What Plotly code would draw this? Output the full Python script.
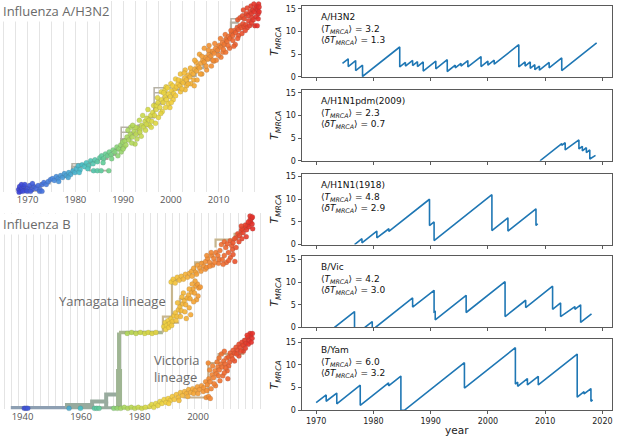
import plotly.graph_objects as go

FIG_W, FIG_H = 617, 439

# ---------------- A/H3N2 tree ----------------
# tips: (sampling year, row in the tree layout, top row = 0)
h3_tips = [
    (1968.1, 191), (1968.3, 188), (1968.5, 193), (1968.8, 190), (1969.2, 188), (1969.6, 192),
    (1970.0, 190), (1970.4, 187), (1970.9, 191), (1971.3, 188), (1971.8, 190), (1972.2, 187),
    (1972.6, 191), (1973.0, 186), (1973.4, 184), (1973.9, 186), (1974.3, 183), (1974.8, 181),
    (1972.5, 193), (1973.0, 193), (1968.2, 194), (1968.7, 186), (1969.0, 193), (1969.4, 186),
    (1969.9, 193), (1970.6, 193), (1971.0, 185),
    (1975.2, 180), (1975.6, 182), (1976.0, 178), (1976.4, 180), (1976.9, 177), (1977.3, 179),
    (1977.7, 175), (1978.1, 177), (1978.6, 174), (1979.0, 176), (1979.5, 172), (1979.9, 174),
    (1976.5, 183), (1978.5, 179),
    (1980.2, 170), (1980.6, 167), (1981.0, 171), (1981.4, 166), (1981.9, 168), (1982.3, 164),
    (1982.8, 167), (1983.2, 162), (1983.7, 165), (1984.1, 161), (1984.6, 163), (1983.8, 172),
    (1984.6, 172), (1985.4, 172), (1987.0, 172), (1980.8, 174), (1982.6, 170),
    (1985.1, 159), (1985.5, 157), (1985.9, 160), (1986.3, 155), (1986.7, 157), (1987.1, 153),
    (1987.5, 156), (1987.9, 151), (1988.3, 153), (1988.7, 148), (1989.1, 150), (1989.5, 146),
    (1989.9, 143), (1990.2, 148), (1985.8, 164), (1987.6, 160), (1988.9, 157), (1989.6, 153),
    (1990.4, 142), (1990.8, 138), (1991.2, 141), (1991.5, 135), (1991.9, 138), (1992.3, 132),
    (1992.7, 135), (1993.1, 129), (1993.5, 131), (1993.9, 126), (1994.3, 128), (1994.7, 131),
    (1994.6, 122), (1995.0, 119), (1995.4, 121), (1995.8, 116), (1996.2, 113), (1996.6, 116),
    (1996.9, 110), (1991.6, 128), (1992.6, 128), (1993.5, 133), (1992.5, 145), (1995.5, 126),
    (1996.0, 122), (1990.0, 150), (1990.6, 146), (1991.0, 131), (1991.8, 144), (1992.0, 126),
    (1992.9, 140), (1993.4, 121), (1993.8, 137), (1994.1, 116), (1994.9, 125), (1995.2, 110),
    (1995.9, 128), (1996.4, 106), (1996.8, 124),
    (1997.0, 106), (1997.3, 103), (1997.7, 108), (1998.0, 100), (1998.4, 103), (1998.8, 97),
    (1999.1, 100), (1999.5, 94), (1999.9, 97), (2000.2, 91), (2000.6, 94), (2000.9, 89),
    (1997.4, 118), (1998.2, 112), (1999.8, 108), (1998.0, 92), (1998.8, 90), (1999.5, 104),
    (2000.5, 100), (1999.0, 87), (2000.0, 84), (1997.2, 98), (1997.9, 114), (1998.5, 93),
    (1998.9, 108), (1999.3, 88), (2000.1, 103), (2000.4, 86),
    (2001.2, 87), (2001.5, 84), (2001.9, 86), (2002.2, 81), (2002.6, 83), (2002.9, 78),
    (2003.3, 80), (2003.6, 75), (2004.0, 77), (2004.3, 72), (2004.7, 74), (2005.0, 69),
    (2005.4, 71), (2005.7, 66), (2006.0, 68), (2003.3, 86), (2004.8, 80), (2002.0, 92),
    (2003.0, 90), (2004.2, 84), (2005.5, 80), (2001.0, 79), (2002.0, 74), (2003.0, 70),
    (2001.0, 96), (2001.6, 80), (2002.3, 89), (2002.8, 73), (2003.6, 84), (2004.1, 68),
    (2004.9, 86), (2005.3, 62),
    (2006.3, 63), (2006.7, 60), (2007.0, 62), (2007.3, 57), (2007.7, 59), (2008.0, 54),
    (2008.4, 56), (2008.7, 51), (2009.1, 53), (2009.4, 48), (2009.8, 50), (2010.1, 45),
    (2010.5, 47), (2010.8, 42), (2011.2, 44), (2011.5, 39), (2009.0, 61), (2010.9, 52),
    (2006.5, 74), (2007.5, 70), (2008.5, 66), (2009.5, 60), (2010.5, 57), (2011.5, 52),
    (2005.0, 60), (2006.0, 54), (2007.0, 48), (2008.0, 45), (2006.2, 74), (2006.5, 56),
    (2007.4, 66), (2007.9, 50), (2008.8, 60), (2009.2, 43), (2010.0, 55), (2010.4, 38),
    (2011.0, 49), (2011.4, 34),
    (2011.8, 41), (2012.1, 36), (2012.4, 38), (2012.7, 33), (2013.0, 35), (2013.3, 30),
    (2013.6, 32), (2013.9, 27), (2014.2, 29), (2014.5, 25), (2014.8, 27), (2015.1, 23),
    (2015.4, 26), (2015.7, 24), (2016.0, 27), (2016.5, 25), (2017.6, 25), (2018.1, 25),
    (2013.0, 40), (2014.2, 35), (2012.3, 48), (2013.5, 44), (2012.0, 45), (2012.6, 30),
    (2013.2, 46), (2014.0, 38), (2014.9, 33), (2015.6, 30),
    (2014.0, 19), (2014.5, 17), (2015.0, 15), (2015.4, 18), (2015.8, 13), (2016.2, 15),
    (2016.6, 11), (2016.9, 13), (2017.2, 9), (2017.5, 11), (2017.8, 7), (2018.0, 5),
    (2018.2, 9), (2018.4, 3), (2018.5, 6), (2017.0, 17), (2018.3, 13), (2016.3, 20),
    (2016.9, 22), (2017.3, 19), (2017.9, 16), (2018.3, 18), (2018.5, 11), (2015.2, 9),
    (2016.0, 7), (2016.8, 5), (2017.4, 3),
]
# backbone nodes, drawn as horizontal-then-vertical steps
h3_trunk = [
    (1967.9, 190), (1969.5, 189), (1971.0, 188), (1972.8, 185), (1974.6, 181), (1976.4, 178),
    (1978.3, 175), (1979.3, 168), (1981.2, 166), (1983.0, 163), (1984.9, 160), (1986.7, 156),
    (1988.3, 151), (1989.6, 140), (1991.5, 135), (1993.2, 126), (1995.0, 118), (1996.5, 104),
    (1998.5, 97), (2000.3, 90), (2002.0, 83), (2003.6, 76), (2005.2, 68), (2006.8, 60),
    (2008.4, 52), (2010.0, 45), (2011.4, 38), (2012.6, 22), (2014.0, 18), (2015.5, 13),
    (2016.8, 8), (2018.3, 4),
]
# side branches (None separates segments)
h3_side = [
    (1968.0, 192.5), (1973.0, 192.5), None,
    (1979.3, 168), (1979.3, 165), (1982.5, 165), None,
    (1983.0, 163), (1983.0, 172), (1987.0, 172), None,
    (1989.6, 140), (1989.6, 128), (1993.5, 128), None,
    (1989.6, 133), (1992.6, 133), None,
    (1996.5, 104), (1996.5, 88), (2000.0, 88), None,
    (1996.5, 93), (1999.8, 93), None,
    (2012.6, 22), (2012.6, 18), (2015.5, 18), None,
    (2013.5, 25), (2018.1, 25),
]

# ---------------- influenza B tree ----------------
b_tips = [
    (1940.6, 413), (1941.2, 413), (1941.8, 413), (1955.9, 413), (1959.8, 413),
    (1964.6, 413), (1965.4, 413), (1966.2, 413),
    # Victoria lineage
    (1971.2, 413), (1972.4, 413), (1973.6, 413), (1974.8, 412), (1976.0, 413), (1977.2, 412),
    (1978.4, 413), (1979.6, 412), (1980.8, 413), (1982.0, 412),
    (1983.5, 411), (1984.2, 409), (1984.9, 412), (1985.6, 408), (1986.3, 410), (1987.0, 406),
    (1987.7, 408), (1988.4, 404), (1989.1, 407), (1989.8, 403), (1990.5, 405), (1991.2, 401),
    (1991.9, 404), (1992.6, 399), (1993.3, 402), (1994.0, 397), (1994.7, 400), (1995.4, 396),
    (1996.1, 398), (1996.8, 394), (1997.5, 397), (1998.2, 393), (1999.0, 395), (1999.8, 391),
    (2000.5, 394), (2001.2, 390), (2002.8, 402), (2003.6, 401), (2004.2, 403),
    (1998.5, 398), (1996.5, 401), (1993.5, 405), (1990.0, 408), (2000.0, 398), (2001.8, 396),
    (2002.0, 392), (2002.6, 386), (2003.2, 389), (2003.7, 383), (2004.2, 386), (2004.8, 379),
    (2005.3, 382), (2005.8, 375), (2006.3, 378), (2006.8, 371), (2007.3, 374), (2007.8, 368),
    (2008.3, 371), (2008.8, 365), (2009.3, 368), (2009.8, 362), (2004.5, 393), (2006.0, 390),
    (2007.5, 385), (2008.5, 380), (2010.0, 375), (2010.5, 370), (2003.5, 367),
    (2004.0, 374), (2005.0, 370), (2006.5, 366), (2007.2, 362), (2003.0, 395), (2005.5, 388),
    (2007.0, 380), (2009.0, 377), (2010.2, 383),
    (2010.5, 361), (2011.0, 357), (2011.5, 360), (2012.0, 354), (2012.5, 357), (2013.0, 351),
    (2013.5, 354), (2014.0, 348), (2014.5, 351), (2015.0, 346), (2015.5, 349), (2016.0, 344),
    (2016.5, 347), (2017.0, 341), (2017.5, 344), (2018.0, 339), (2018.5, 342), (2017.8, 337),
    (2012.5, 365), (2014.0, 360), (2015.5, 355), (2008.0, 358), (2009.0, 355), (2009.5, 372),
    (2010.8, 366), (2011.8, 363), (2013.2, 358), (2014.6, 355), (2016.2, 352), (2017.2, 348),
    (2018.2, 346), (2018.6, 337), (2016.8, 339),
    # Yamagata lineage
    (1975.8, 337), (1977.3, 336), (1978.8, 337), (1980.3, 336), (1981.8, 337), (1983.0, 336),
    (1984.3, 337), (1985.6, 336),
    (1988.3, 330), (1988.8, 326), (1989.3, 329), (1989.8, 324), (1990.3, 327), (1990.8, 322),
    (1991.3, 325), (1991.8, 319), (1992.3, 316), (1992.8, 320), (1993.3, 313), (1993.8, 310),
    (1994.3, 314), (1994.8, 307), (1995.3, 304), (1995.8, 308), (1996.3, 301), (1996.8, 298),
    (1997.3, 302), (1997.8, 295), (1998.3, 292), (1998.8, 296), (1999.3, 289), (1999.8, 287),
    (2000.3, 291), (1996.0, 322), (1997.5, 318), (1999.5, 303), (1995.0, 296),
    (1989.0, 333), (1990.0, 331), (1991.0, 329), (1992.5, 324), (1994.0, 320), (1995.5, 315),
    (1997.0, 311), (1998.5, 305), (2000.0, 299), (2000.8, 290), (1999.0, 284), (1998.0, 287),
    (1997.0, 292), (1993.0, 306), (1994.5, 300),
    (1990.8, 285), (1991.5, 282), (1992.2, 286), (1992.9, 280), (1993.6, 283), (1994.3, 279),
    (1995.0, 282), (1995.7, 277), (1996.4, 280), (1997.1, 276),
    (1997.8, 274), (1998.5, 271), (1999.2, 275), (1999.9, 268), (2000.6, 271), (2001.3, 266),
    (2002.0, 269), (1998.0, 279), (1999.5, 277), (2001.0, 274), (2002.5, 272),
    (2002.6, 264), (2003.3, 261), (2004.0, 265), (2004.7, 258), (2005.4, 261), (2006.1, 255),
    (2006.8, 258), (2007.5, 253), (2003.0, 270), (2005.0, 268), (2007.0, 266), (2004.0, 269),
    (2005.7, 265), (2007.2, 262), (2004.5, 255), (2003.0, 258),
    (2008.3, 262), (2009.0, 258), (2009.7, 265), (2010.4, 255), (2011.1, 260), (2011.8, 252),
    (2012.6, 264), (2008.6, 267), (2010.5, 263), (2012.0, 257), (2011.5, 248), (2009.5, 250),
    (2008.0, 247), (2009.0, 244), (2010.0, 246), (2011.0, 243), (2012.0, 245), (2013.0, 240),
    (2013.6, 236), (2014.2, 238), (2014.8, 233), (2015.4, 235), (2016.0, 230), (2016.6, 232),
    (2017.0, 227), (2017.5, 229), (2018.0, 224), (2018.5, 226), (2018.4, 220), (2017.8, 222),
    (2015.0, 241), (2016.5, 239), (2013.0, 250), (2014.0, 244), (2015.0, 231), (2016.2, 227),
    (2017.2, 224), (2017.8, 218), (2018.6, 219), (2018.7, 231), (2014.8, 228), (2012.5, 241),
]
b_root = [(1936.0, 413), (1955.2, 413)]
b_stem = [
    (1955.2, 413), (1973.0, 413), None,
    (1955.2, 413), (1955.2, 409.5), (1963.8, 409.5), (1963.8, 406), (1968.6, 406),
    (1968.6, 399), (1972.4, 399), None,
    (1968.6, 406), (1968.6, 413),
]
b_trunk = [(1973.0, 413), (1973.0, 336)]
b_trunk_thick = [(1973.0, 413), (1973.0, 373)]
b_yam_stem = [(1973.0, 336), (1988.0, 336)]
b_vic_stem = [(1973.0, 413), (1983.5, 413)]
b_yam_side = [
    (1988.0, 336), (1988.0, 320), (1991.1, 320), None,
    (1988.0, 326), (1993.5, 326), None,
    (1991.1, 327), (1991.1, 283), (1994.0, 283), None,
    (1993.8, 318), (1993.8, 302), (1998.0, 302), None,
    (1999.0, 273), (1999.0, 265), (2002.0, 265), None,
    (2006.0, 250), (2006.0, 242), (2012.5, 242), (2012.5, 236), (2015.5, 236),
]
b_vic_side = [
    (1995.0, 402), (2003.0, 402), None,
    (2003.5, 398), (2003.5, 367), (2007.0, 367), (2007.0, 358), (2015.5, 358),
    (2015.5, 343), (2017.5, 343),
]

# ---------------- T_MRCA over time: (year, T_MRCA) ----------------
tmrca_h3n2 = [
    (1974.6, 3.0), (1975.6, 4.0), (1975.6, 2.3), (1976.9, 3.6), (1976.9, 1.4), (1978.1, 2.6),
    (1978.1, 0.1), (1984.6, 6.6), (1984.6, 2.2), (1985.6, 3.2), (1985.6, 2.4), (1986.85, 3.65),
    (1986.85, 2.5), (1987.7, 3.35), (1987.7, 2.3), (1988.7, 3.3), (1988.7, 1.3), (1990.9, 3.5),
    (1990.9, 1.8), (1992.9, 3.8), (1992.9, 1.2), (1994.3, 2.6), (1994.3, 2.0), (1995.3, 3.0),
    (1995.3, 2.4), (1996.5, 3.6), (1996.5, 2.2), (1998.8, 4.5), (1998.8, 2.3), (2000.0, 3.5),
    (2000.0, 2.6), (2001.1, 3.7), (2001.1, 2.8), (2005.4, 7.1), (2005.4, 2.2), (2006.5, 3.3),
    (2006.5, 2.4), (2007.4, 3.3), (2007.4, 1.9), (2008.2, 2.7), (2008.2, 1.6), (2009.0, 2.4),
    (2009.0, 1.5), (2010.7, 3.2), (2010.7, 2.0), (2012.9, 4.2), (2012.9, 1.4), (2019.0, 7.5),
]
tmrca_h1n1pdm = [
    (2009.1, 0.0), (2012.9, 3.8), (2012.9, 3.4), (2013.5, 4.0), (2013.5, 2.4), (2015.9, 4.6),
    (2015.9, 2.6), (2016.5, 3.2), (2016.5, 2.2), (2017.2, 2.9), (2017.2, 1.8), (2017.8, 2.4),
    (2017.8, 0.4), (2018.8, 1.2),
]
tmrca_h1n1_1918 = [
    (1976.7, 0.0), (1978.0, 1.3), (1978.0, 0.4), (1980.6, 3.0), (1980.6, 1.5), (1982.7, 3.5),
    (1982.7, 2.9), (1989.8, 10.0), (1989.8, 4.2), (1990.6, 5.0), (1990.6, 0.9), (2000.7, 11.0),
    (2000.7, 3.1), (2003.5, 5.9), (2003.5, 3.0), (2008.4, 7.9), (2008.4, 4.2), (2008.7, 4.6),
]
tmrca_bvic = [
    (1973.2, 0.0), (1976.7, 3.5), (1976.7, 0.0), None,
    (1978.5, 0.0), (1979.8, 1.3), (1979.8, 0.0), None,
    (1980.35, 0.0), (1986.85, 6.5), (1986.85, 4.5), (1990.6, 8.2), (1990.6, 3.4), (1990.8, 3.5),
    (1990.8, 1.7), (1996.2, 7.1), (1996.2, 3.3), (2003.0, 10.1), (2003.0, 2.4), (2006.6, 6.0),
    (2006.6, 4.4), (2011.3, 9.1), (2011.3, 4.0), (2012.7, 5.4), (2012.7, 2.4), (2015.2, 4.6),
    (2015.2, 4.0), (2016.2, 5.0), (2016.2, 1.1), (2018.1, 3.0),
]
tmrca_byam = [
    (1970.0, 1.7), (1971.75, 3.4), (1971.75, 2.0), (1973.6, 3.8), (1973.6, 1.45), (1977.7, 5.55),
    (1977.7, 1.1), (1982.65, 6.05), (1982.65, 5.4), (1984.8, 7.55), (1984.8, 0.0), (1985.4, 0.0),
    (1995.9, 10.5), (1995.9, 4.9), (2004.8, 13.8), (2004.8, 5.8), (2005.2, 6.2), (2005.2, 5.3),
    (2006.9, 7.0), (2006.9, 5.6), (2008.8, 7.5), (2008.8, 5.6), (2015.6, 12.4), (2015.6, 2.9),
    (2016.8, 4.1), (2016.8, 3.6), (2018.0, 4.8), (2018.0, 2.0), (2018.3, 2.3),
]
panel_series = [tmrca_h3n2, tmrca_h1n1pdm, tmrca_h1n1_1918, tmrca_bvic, tmrca_byam]
panel_names = ["A/H3N2", "A/H1N1pdm(2009)", "A/H1N1(1918)", "B/Vic", "B/Yam"]
panel_mean = [3.2, 2.3, 4.8, 4.2, 6.0]
panel_sd = [1.3, 0.7, 2.9, 3.0, 3.2]
year_ticks = [1970, 1980, 1990, 2000, 2010, 2020]
tmrca_ticks = [0, 5, 10, 15]

RAINBOW = [
    [0.0, "#3a3fd6"], [0.14, "#4a86e0"], [0.27, "#45bfc6"], [0.37, "#66cf92"],
    [0.45, "#a6d862"], [0.55, "#d6d945"], [0.64, "#f2d03c"], [0.74, "#f4ab36"],
    [0.85, "#f17d31"], [1.0, "#e4302a"],
]
GRID = "#e4e4e4"
LEFT_FONT = "Open Sans"
RIGHT_FONT = "DejaVu Sans"


def split(pairs):
    xs, ys = [], []
    for p in pairs:
        if p is None:
            xs.append(None)
            ys.append(None)
        else:
            xs.append(p[0])
            ys.append(p[1])
    return xs, ys


def ydom(top, bottom):
    return [1 - bottom / FIG_H, 1 - top / FIG_H]


def add_lines(pairs, color, width, xa, ya, shape="linear"):
    x, y = split(pairs)
    fig.add_trace(go.Scatter(x=x, y=y, mode="lines", xaxis=xa, yaxis=ya,
                             line=dict(color=color, width=width, shape=shape),
                             hoverinfo="skip"))


def add_tips(pairs, cmin, cmax, xa, ya):
    x, y = split(pairs)
    fig.add_trace(go.Scatter(
        x=x, y=y, mode="markers", xaxis=xa, yaxis=ya, cliponaxis=False,
        marker=dict(size=5, color=x, colorscale=RAINBOW, cmin=cmin, cmax=cmax,
                    showscale=False, opacity=0.9,
                    line=dict(width=0.4, color="rgba(70,70,70,0.35)")),
        hovertemplate="%{x:.1f}<extra></extra>"))


fig = go.Figure()

# A/H3N2 tree
add_lines(h3_side, "#b6b2a6", 1.6, "x", "y")
add_lines(h3_trunk, "#b3afa3", 2.2, "x", "y", shape="hv")
add_tips(h3_tips, 1968, 2018, "x", "y")

# B tree
add_lines(b_root, "#8d9fb2", 4.5, "x2", "y2")
add_lines(b_stem, "#98ab9e", 4.0, "x2", "y2")
add_lines(b_vic_stem, "#b3c18f", 2.5, "x2", "y2")
add_lines(b_trunk, "#9fb593", 4.0, "x2", "y2")
add_lines(b_trunk_thick, "#9fb593", 6, "x2", "y2")
add_lines(b_yam_stem, "#a9b68f", 3.5, "x2", "y2")
add_lines(b_yam_side, "#c7b68e", 2.2, "x2", "y2")
add_lines(b_vic_side, "#c8b08e", 2.0, "x2", "y2")
add_tips(b_tips, 1938, 2018, "x2", "y2")

# T_MRCA panels
panel_tops = [5, 90, 175, 259, 343]
PANEL_H = 72
x_dom = [302 / FIG_W, 613 / FIG_W]
axis_style = dict(showline=True, mirror=True, linecolor="#5a5a5a", linewidth=1,
                  ticks="outside", ticklen=3, tickcolor="#5a5a5a", showgrid=False,
                  zeroline=False, tickfont=dict(family=RIGHT_FONT, size=8, color="#222"))
layout_axes = {}
annotations = []
for i, series in enumerate(panel_series):
    k = i + 3
    x, y = split(series)
    fig.add_trace(go.Scatter(x=x, y=y, mode="lines", xaxis=f"x{k}", yaxis=f"y{k}",
                             line=dict(color="#1f77b4", width=1.6),
                             hovertemplate="%{x:.1f}: %{y:.1f}<extra></extra>"))
    top = panel_tops[i]
    xa = dict(axis_style, domain=x_dom, range=[1967.44, 2021.68], anchor=f"y{k}",
              tickvals=year_ticks, showticklabels=(i == 4))
    if i == 4:
        xa["title"] = dict(text="year", standoff=1,
                           font=dict(family=RIGHT_FONT, size=10.5, color="#222"))
    layout_axes[f"xaxis{k}"] = xa
    layout_axes[f"yaxis{k}"] = dict(
        axis_style, domain=ydom(top, top + PANEL_H), range=[0, 15.65], anchor=f"x{k}",
        tickvals=tmrca_ticks,
        title=dict(text="<i>T</i><sub><i>MRCA</i></sub>", standoff=4,
                   font=dict(family=RIGHT_FONT, size=11, color="#222")))
    label = (f"{panel_names[i]}<br>"
             f"⟨<i>T</i><sub><i>MRCA</i></sub>⟩ = {panel_mean[i]}<br>"
             f"⟨<i>δT</i><sub><i>MRCA</i></sub>⟩ = {panel_sd[i]}")
    annotations.append(dict(
        text=label, xref="paper", yref="paper", x=321 / FIG_W, y=1 - (top + 5) / FIG_H,
        xanchor="left", yanchor="top", align="left", showarrow=False, borderpad=0,
        font=dict(family=RIGHT_FONT, size=9, color="#111")))

# tree titles and lineage labels
annotations += [
    dict(text="Influenza A/H3N2", xref="paper", yref="paper", x=1 / FIG_W, y=1 - 10 / FIG_H,
         xanchor="left", yanchor="middle", showarrow=False, bgcolor="white",
         font=dict(family=LEFT_FONT, size=13, color="#6a6a6a")),
    dict(text="Influenza B", xref="paper", yref="paper", x=1 / FIG_W, y=1 - 226 / FIG_H,
         xanchor="left", yanchor="middle", showarrow=False, bgcolor="white",
         font=dict(family=LEFT_FONT, size=13, color="#6a6a6a")),
    dict(text="Yamagata lineage", xref="x2", yref="y2", x=1970.9, y=304,
         xanchor="center", yanchor="middle", showarrow=False,
         font=dict(family=LEFT_FONT, size=13, color="#6a6a6a")),
    dict(text="Victoria<br>lineage", xref="x2", yref="y2", x=1984.3, y=372.5,
         xanchor="left", yanchor="middle", align="left", showarrow=False,
         font=dict(family=LEFT_FONT, size=13, color="#6a6a6a")),
]

tree_tickfont = dict(family=LEFT_FONT, size=9.5, color="#555")
fig.update_layout(
    width=FIG_W, height=FIG_H, autosize=False,
    margin=dict(l=0, r=0, t=0, b=0),
    paper_bgcolor="white", plot_bgcolor="white",
    showlegend=False,
    xaxis=dict(domain=[0, 265 / FIG_W], range=[1964.2, 2019.64], anchor="y",
               tickvals=[1970, 1980, 1990, 2000, 2010], ticks="", showline=False,
               zeroline=False, showgrid=True, gridcolor=GRID, gridwidth=1,
               minor=dict(tick0=1967.5, dtick=2.5, showgrid=True, gridcolor=GRID),
               tickfont=tree_tickfont),
    yaxis=dict(domain=ydom(0, 194), range=[194, 0], visible=False),
    xaxis2=dict(domain=[0, 265 / FIG_W], range=[1932.3, 2022.76], anchor="y2",
                tickvals=[1940, 1960, 1980, 2000], ticks="", showline=False,
                zeroline=False, showgrid=False,
                minor=dict(tick0=1941.25, dtick=2.5, showgrid=True, gridcolor=GRID),
                tickfont=tree_tickfont),
    yaxis2=dict(domain=ydom(215, 414), range=[414, 215], visible=False),
    annotations=annotations,
    **layout_axes,
)

# the page's default body margin would shift the figure, so drop it
fig.write_html("out.html", config={"displayModeBar": False},
               post_script="document.body.style.margin='0';document.body.style.overflow='hidden';")
